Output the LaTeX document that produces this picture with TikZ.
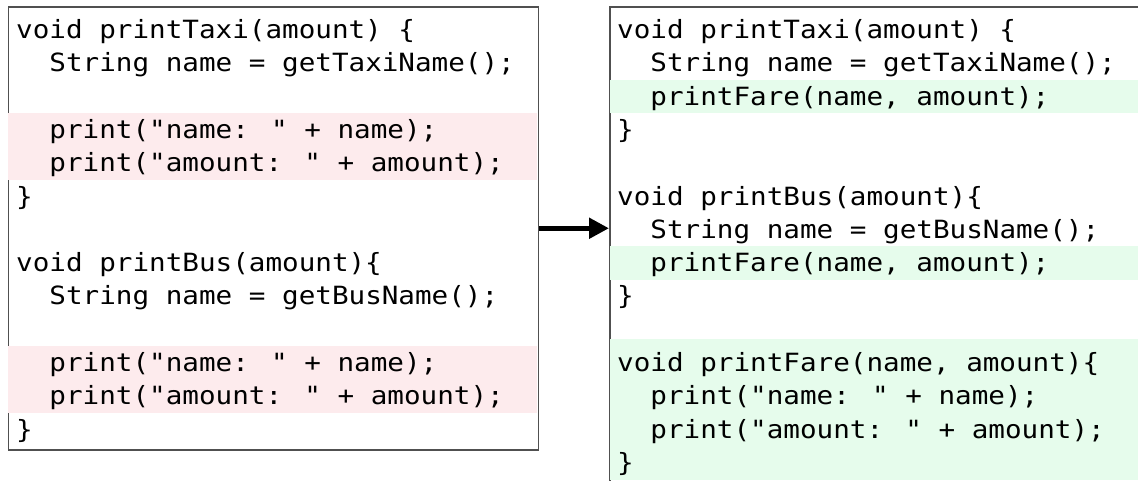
\documentclass[tikz,border=0pt]{standalone}
\usepackage{fontspec}
\usetikzlibrary{arrows.meta}
\newfontfamily\codefont[FakeStretch=1.1]{DejaVu Sans Mono}
\definecolor{removed}{RGB}{253,235,237}
\definecolor{added}{RGB}{230,252,236}
\definecolor{frame}{RGB}{80,80,80}
\tikzset{
  codeline/.style={anchor=base west, inner sep=0pt, font=\codefont\fontsize{25.1}{33.3}\selectfont},
  panel/.style={draw=frame, line width=1.5pt, fill=white, anchor=north west, inner sep=0pt},
  movearrow/.style={line width=5pt, -{Triangle[length=20pt,width=20pt]}},
}
\begin{document}
\begin{tikzpicture}[x=1pt,y=-1pt]
\useasboundingbox (0,0) rectangle (1138,480);
\clip (0,0) rectangle (1138,480);

% panels
\node[panel, minimum width=530pt, minimum height=443pt] (before) at (7.5,6) {};
\node[panel, minimum width=560pt, minimum height=500pt] (after) at (609,6) {};

% highlighted lines: removed on the left, added on the right
\fill[removed] (8.3,113.3) rectangle (536.7,179.6);
\fill[removed] (8.3,346.3) rectangle (536.7,412.6);
\fill[added] (609.8,80) rectangle (1138,113.3);
\fill[added] (609.8,246.3) rectangle (1138,279.6);
\fill[added] (609.8,339) rectangle (1138,480);

% code before the refactoring
\node[codeline] (b1)  at (16,38.5)    {void printTaxi(amount) \{};
\node[codeline] (b2)  at (16,71.8)  {~~String name = getTaxiName();};
\node[codeline] (b4)  at (16,138.4) {~~print("name: " + name);};
\node[codeline] (b5)  at (16,171.7) {~~print("amount: " + amount);};
\node[codeline] (b6)  at (16,205)   {\}};
\node[codeline] (b8)  at (16,271.6) {void printBus(amount)\{};
\node[codeline] (b9)  at (16,304.9) {~~String name = getBusName();};
\node[codeline] (b11) at (16,371.5) {~~print("name: " + name);};
\node[codeline] (b12) at (16,404.8) {~~print("amount: " + amount);};
\node[codeline] (b13) at (16,438.1) {\}};

% code after the refactoring
\node[codeline] (a1)  at (617,38.5)  {void printTaxi(amount) \{};
\node[codeline] (a2)  at (617,71.8)  {~~String name = getTaxiName();};
\node[codeline] (a3)  at (617,105.1) {~~printFare(name, amount);};
\node[codeline] (a4)  at (617,138.4) {\}};
\node[codeline] (a6)  at (617,205)   {void printBus(amount)\{};
\node[codeline] (a7)  at (617,238.3) {~~String name = getBusName();};
\node[codeline] (a8)  at (617,271.6) {~~printFare(name, amount);};
\node[codeline] (a9)  at (617,304.9) {\}};
\node[codeline] (a11) at (617,371.5) {void printFare(name, amount)\{};
\node[codeline] (a12) at (617,404.8) {~~print("name: " + name);};
\node[codeline] (a13) at (617,438.1) {~~print("amount: " + amount);};
\node[codeline] (a14) at (617,471.4) {\}};

% arrow between the panels
\draw[movearrow] (before.east) -- (before.east -| after.west);
\end{tikzpicture}
\end{document}
